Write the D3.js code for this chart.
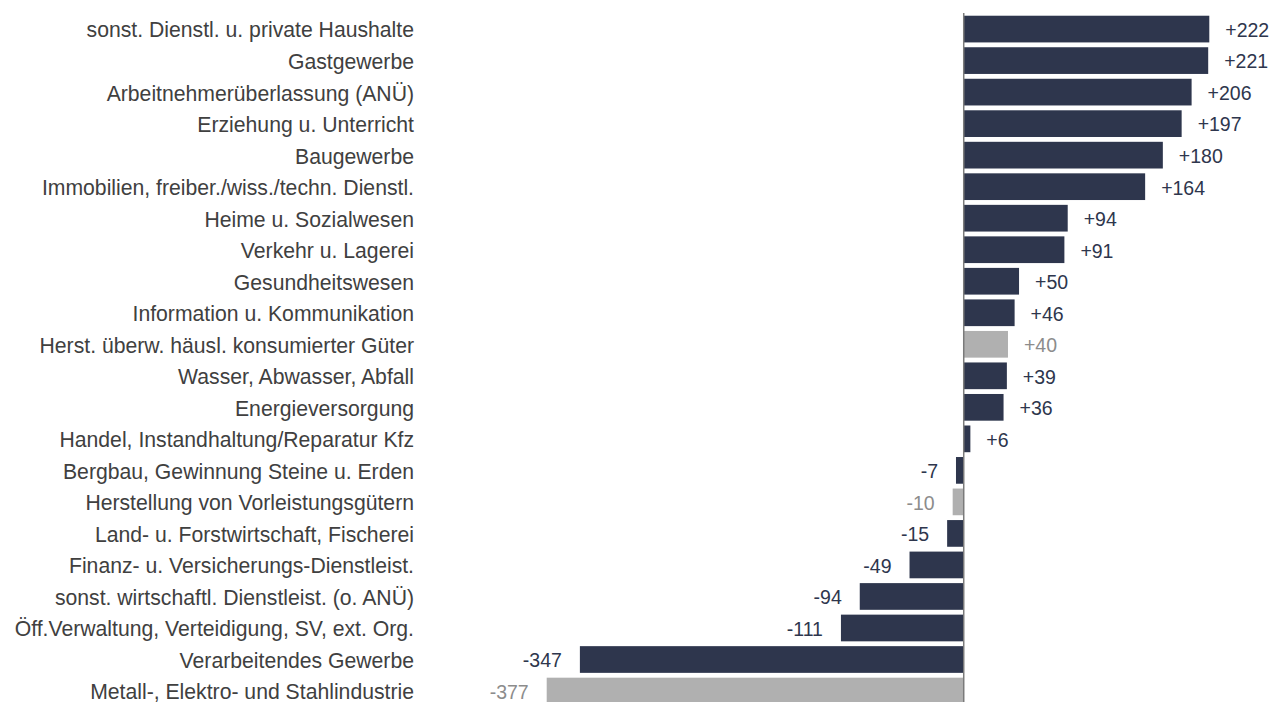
<!DOCTYPE html>
<html><head><meta charset="utf-8">
<script src="https://cdn.jsdelivr.net/npm/d3@7"></script>
<style>html,body{margin:0;padding:0;background:#fff;}svg{display:block;}</style>
</head><body>
<svg id="chart" width="1283" height="702"></svg>
<script>
const categories = [
  "sonst. Dienstl. u. private Haushalte",
  "Gastgewerbe",
  "Arbeitnehmerüberlassung (ANÜ)",
  "Erziehung u. Unterricht",
  "Baugewerbe",
  "Immobilien, freiber./wiss./techn. Dienstl.",
  "Heime u. Sozialwesen",
  "Verkehr u. Lagerei",
  "Gesundheitswesen",
  "Information u. Kommunikation",
  "Herst. überw. häusl. konsumierter Güter",
  "Wasser, Abwasser, Abfall",
  "Energieversorgung",
  "Handel, Instandhaltung/Reparatur Kfz",
  "Bergbau, Gewinnung Steine u. Erden",
  "Herstellung von Vorleistungsgütern",
  "Land- u. Forstwirtschaft, Fischerei",
  "Finanz- u. Versicherungs-Dienstleist.",
  "sonst. wirtschaftl. Dienstleist. (o. ANÜ)",
  "Öff.Verwaltung, Verteidigung, SV, ext. Org.",
  "Verarbeitendes Gewerbe",
  "Metall-, Elektro- und Stahlindustrie"
];
const values = [222, 221, 206, 197, 180, 164, 94, 91, 50, 46, 40, 39, 36, 6, -7, -10, -15, -49, -94, -111, -347, -377];
const highlighted = [false,false,false,false,false,false,false,false,false,false,true,false,false,false,false,true,false,false,false,false,false,true];

const data = categories.map((c,i)=>({cat:c, val:values[i], hl:highlighted[i]}));

const svg = d3.select("#chart");
const x = d3.scaleLinear().domain([d3.min(values), d3.max(values)]).range([546.7, 1209.3]);
const y = d3.scaleBand().domain(categories).range([10.9, 709.2]).paddingInner(0.153).paddingOuter(0.153);

const barColor = "#2e364d", grayBar = "#b0b0b0";
const labelColor = "#404040", valColor = "#2e364d", grayVal = "#8c8c8c";

svg.append("g").selectAll("rect").data(data).join("rect")
  .attr("x", d=>x(Math.min(0,d.val)))
  .attr("width", d=>Math.abs(x(d.val)-x(0)))
  .attr("y", d=>y(d.cat))
  .attr("height", y.bandwidth())
  .attr("fill", d=>d.hl?grayBar:barColor);

svg.append("line")
  .attr("x1", x(0)).attr("x2", x(0))
  .attr("y1", 13).attr("y2", 710)
  .attr("stroke", "#7a7a7a").attr("stroke-width", 1.5);

svg.append("g").selectAll("text").data(data).join("text")
  .attr("x", 414)
  .attr("y", d=>y(d.cat)+y.bandwidth()/2+1)
  .attr("dy", "0.35em")
  .attr("text-anchor", "end")
  .attr("font-family", "Liberation Sans, Arial, sans-serif")
  .attr("font-size", 21.2)
  .attr("fill", labelColor)
  .text(d=>d.cat);

svg.append("g").selectAll("text").data(data).join("text")
  .attr("x", d=>d.val>=0 ? x(d.val)+16 : x(d.val)-18)
  .attr("y", d=>y(d.cat)+y.bandwidth()/2+1)
  .attr("dy", "0.35em")
  .attr("text-anchor", d=>d.val>=0?"start":"end")
  .attr("font-family", "Liberation Sans, Arial, sans-serif")
  .attr("font-size", 19.5)
  .attr("fill", d=>d.hl?grayVal:valColor)
  .text(d=>(d.val>0?"+":"")+d.val);
</script>
</body></html>
